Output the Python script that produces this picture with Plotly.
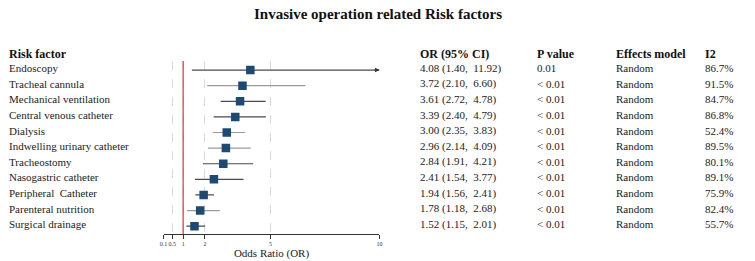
import plotly.graph_objects as go

factors = ["Endoscopy", "Tracheal cannula", "Mechanical ventilation", "Central venous catheter",
           "Dialysis", "Indwelling urinary catheter", "Tracheostomy", "Nasogastric catheter",
           "Peripheral  Catheter", "Parenteral nutrition", "Surgical drainage"]
or_vals = [4.08, 3.72, 3.61, 3.39, 3.00, 2.96, 2.84, 2.41, 1.94, 1.78, 1.52]
ci_low = [1.40, 2.10, 2.72, 2.40, 2.35, 2.14, 1.91, 1.54, 1.56, 1.18, 1.15]
ci_high = [11.92, 6.60, 4.78, 4.79, 3.83, 4.09, 4.21, 3.77, 2.41, 2.68, 2.01]
p_vals = ["0.01", "< 0.01", "< 0.01", "< 0.01", "< 0.01", "< 0.01", "< 0.01", "< 0.01", "< 0.01", "< 0.01", "< 0.01"]
models = ["Random"] * 11
i2_vals = ["86.7%", "91.5%", "84.7%", "86.8%", "52.4%", "89.5%", "80.1%", "89.1%", "75.9%", "82.4%", "55.7%"]
line_shade = ["dark", "light", "dark", "dark", "light", "light", "dark", "dark", "dark", "light", "dark"]
tick_vals = [0.1, 0.5, 1, 2, 5, 10]
tick_text = ["0.1", "0.5", "1", "2", "5", "10"]
x_max = 10

n = len(factors)
ypos = [n - i for i in range(n)]
FONT = "Liberation Serif, Times New Roman, serif"

fig = go.Figure()

for shade, col in [("dark", "#4a4a4a"), ("light", "#9a9a9a")]:
    xs, ys = [], []
    for i in range(n):
        if line_shade[i] != shade:
            continue
        xs += [ci_low[i], min(ci_high[i], x_max), None]
        ys += [ypos[i], ypos[i], None]
    fig.add_trace(go.Scatter(x=xs, y=ys, mode="lines", line=dict(color=col, width=1.2),
                             hoverinfo="skip", showlegend=False))

fig.add_trace(go.Scatter(x=or_vals, y=ypos, mode="markers",
                         marker=dict(symbol="square", size=8.5, color="#1d4a74"),
                         showlegend=False))

# arrow for truncated CI
for i in range(n):
    if ci_high[i] > x_max:
        fig.add_annotation(x=x_max, y=ypos[i], ax=x_max - 0.3, ay=ypos[i], xref="x", yref="y",
                           axref="x", ayref="y", showarrow=True, arrowhead=2, arrowsize=0.8,
                           arrowwidth=1.1, arrowcolor="#333", text="")

# red null line
fig.add_shape(type="line", x0=1, x1=1, y0=0, y1=1, xref="x", yref="y domain",
              line=dict(color="#e8413a", width=1.3))

# text columns
cols = [(3 / 755, "Risk factor", factors),
        (418 / 755, "OR (95% CI)", [f"{o:.2f} ({l:.2f},  {h:.2f})" for o, l, h in zip(or_vals, ci_low, ci_high)]),
        (536 / 755, "P value", p_vals),
        (616 / 755, "Effects model", models),
        (706 / 755, "I2", i2_vals)]
for xp, head, vals in cols:
    fig.add_annotation(x=xp, y=1 - 54 / 261, xref="paper", yref="paper", text="<b>" + head + "</b>",
                       showarrow=False, xanchor="left", yanchor="middle",
                       font=dict(family=FONT, size=12, color="#111"))
    for i, v in enumerate(vals):
        fig.add_annotation(x=xp, y=ypos[i] + 0.12, xref="paper", yref="y", text=v,
                           showarrow=False, xanchor="left", yanchor="middle",
                           font=dict(family=FONT, size=11, color="#222"))

fig.add_annotation(x=378 / 755, y=1 - 14 / 261, xref="paper", yref="paper",
                   text="<b>Invasive operation related Risk factors</b>", showarrow=False,
                   xanchor="center", yanchor="middle", font=dict(family=FONT, size=15, color="#111"))

fig.update_layout(
    width=755, height=261, margin=dict(l=0, r=0, t=0, b=0),
    plot_bgcolor="white", paper_bgcolor="white",
    xaxis=dict(domain=[161 / 755, 379 / 755], range=[0.1, 10], tickvals=tick_vals, ticktext=tick_text,
               showgrid=True, gridcolor="#d9d9d9", griddash="dash", gridwidth=1,
               showline=True, linecolor="#333", linewidth=1, ticks="outside", ticklen=4,
               tickcolor="#333", tickangle=0, tickfont=dict(family=FONT, size=6, color="#333"),
               title=dict(text="Odds Ratio (OR)", font=dict(family=FONT, size=11, color="#222"), standoff=2),
               zeroline=False, fixedrange=True),
    yaxis=dict(domain=[(261 - 234) / 261, (261 - 61) / 261], range=[0.5, 11.58], visible=False,
               showgrid=False, zeroline=False),
)

fig.write_html("out.html")
